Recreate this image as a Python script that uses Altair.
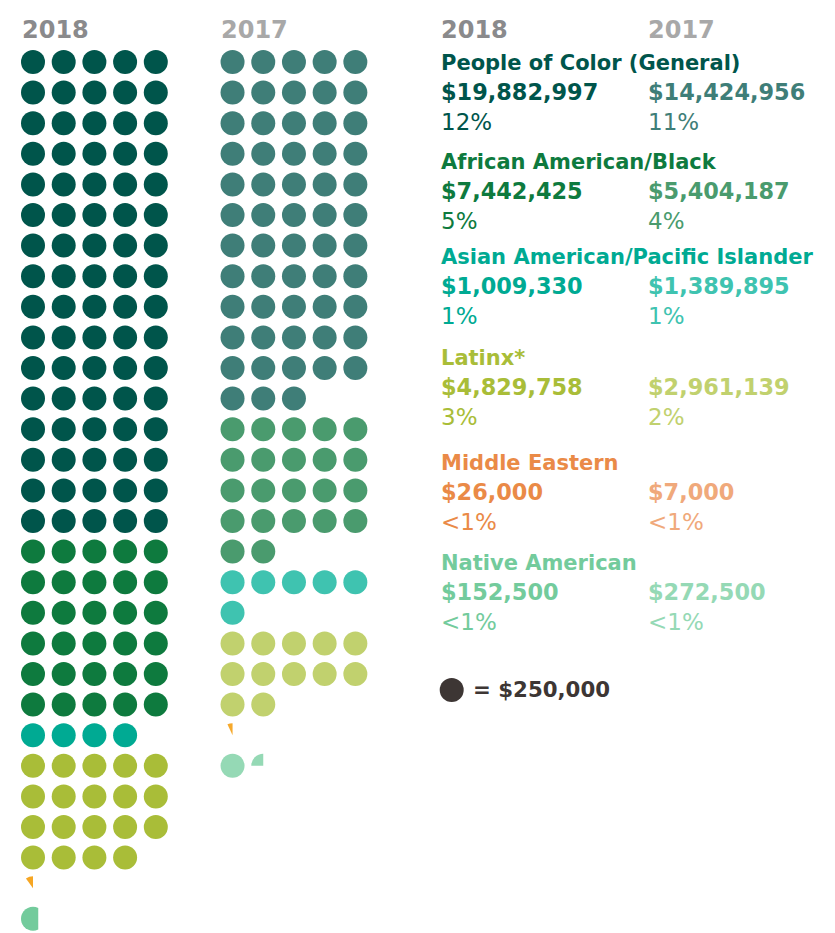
import math
import altair as alt
import pandas as pd

# ---------------- data ----------------
UNIT = 250000
years = ["2018", "2017"]
categories = ["People of Color (General)", "African American/Black",
              "Asian American/Pacific Islander", "Latinx*",
              "Middle Eastern", "Native American"]
amount_2018 = [19882997, 7442425, 1009330, 4829758, 26000, 152500]
amount_2017 = [14424956, 5404187, 1389895, 2961139, 7000, 272500]
share_2018 = ["12%", "5%", "1%", "3%", "<1%", "<1%"]
share_2017 = ["11%", "4%", "1%", "2%", "<1%", "<1%"]
# dots as drawn in the graphic: whole dots, then the fraction of a partial dot
whole_dots_2018 = [80, 30, 4, 19, 0, 0]
whole_dots_2017 = [58, 22, 6, 12, 0, 1]
partial_dot_2018 = [0, 0, 0, 0, 0.10, 0.77]
partial_dot_2017 = [0, 0, 0, 0, 0.07, 0.25]

# ---------------- style ----------------
dot_colors_2018 = ["#00554b", "#0e7a3e", "#00aa93", "#a9bd38", "#f6a623", "#73cb9c"]
dot_colors_2017 = ["#3f7e78", "#4a9b6e", "#3fc3b0", "#c1d16e", "#f6a92c", "#95d9b5"]
text_colors_2018 = ["#00554b", "#0e7a3e", "#00aa93", "#a9bd38", "#ea8a47", "#73cb9c"]
text_colors_2017 = ["#3f7e78", "#4a9b6e", "#3fc3b0", "#c1d16e", "#f0a97b", "#95d9b5"]
header_colors = ["#8a8a8c", "#a8a8a8"]
KEY_COLOR = "#3d3634"
FONT = "DejaVu Sans"

W, H = 819, 925
OFF = 8                      # page margin
PER_ROW = 5
COL_GAP = 6.5                # grid units between the two dot columns
SX, SY = 30.7, 30.6          # grid spacing in px
X0, Y0 = 33 - OFF, 62 - OFF  # first dot centre (plot coords)
DOT = 24

x_grid = alt.Scale(domain=[-X0 / SX, (W - X0) / SX])
y_grid = alt.Scale(domain=[-Y0 / SY, (H - Y0) / SY], reverse=True)
x_pix = alt.Scale(domain=[0, W])
y_pix = alt.Scale(domain=[0, H], reverse=True)


def seg_offset(f):
    """x offset of a vertical chord leaving fraction f of a unit circle on its left."""
    lo, hi = -1.0, 1.0
    for _ in range(60):
        c = (lo + hi) / 2
        left = (math.pi - (math.acos(c) - c * math.sqrt(1 - c * c))) / math.pi
        if left < f:
            lo = c
        else:
            hi = c
    return (lo + hi) / 2


recs = []
for yi, (whole, part, cols) in enumerate([
        (whole_dots_2018, partial_dot_2018, dot_colors_2018),
        (whole_dots_2017, partial_dot_2017, dot_colors_2017)]):
    row = 0
    for ci, cat in enumerate(categories):
        n = whole[ci]
        for k in range(n):
            recs.append(dict(year=years[yi], category=cat, kind="full",
                             gx=yi * COL_GAP + k % PER_ROW, gy=row + k // PER_ROW,
                             color=cols[ci], frac=1.0))
        slot = n
        if part[ci] > 0:
            f = part[ci]
            recs.append(dict(year=years[yi], category=cat,
                             kind="wedge" if f <= 0.5 else "segment",
                             gx=yi * COL_GAP + slot % PER_ROW, gy=row + slot // PER_ROW,
                             color=cols[ci], frac=f))
            slot += 1
        row += math.ceil(slot / PER_ROW)

dots = pd.DataFrame(recs)
dots["t0"] = 2 * math.pi * (1 - dots["frac"])
dots["t1"] = 2 * math.pi

enc_grid = dict(
    x=alt.X("gx:Q", scale=x_grid, axis=None),
    y=alt.Y("gy:Q", scale=y_grid, axis=None),
    color=alt.Color("color:N", scale=None),
)

full_layer = alt.Chart(dots[dots.kind == "full"]).mark_circle(
    size=DOT * DOT, opacity=1).encode(**enc_grid)

wedge_layer = alt.Chart(dots[dots.kind == "wedge"]).mark_arc(
    radius=DOT / 2, opacity=1).encode(
    theta=alt.Theta("t0:Q", scale=None),
    theta2="t1:Q",
    **enc_grid)

seg_layers = []
for _, r in dots[dots.kind == "segment"].iterrows():
    c = seg_offset(r.frac)
    s = math.sqrt(1 - c * c)
    path = f"M{c:.4f},{-s:.4f}A1,1,0,1,0,{c:.4f},{s:.4f}Z"
    seg_layers.append(
        alt.Chart(dots[(dots.kind == "segment") & (dots.year == r.year)]).mark_point(
            shape=path, filled=True, size=DOT * DOT, opacity=1, strokeWidth=0
        ).encode(**enc_grid))

# ---------------- text ----------------
LX = [441 - OFF, 648 - OFF]
name_base = [69.5, 169.3, 264.3, 365, 470, 570]

headers = pd.DataFrame(dict(
    text=years + years,
    px=[22 - OFF, 221 - OFF] + LX,
    py=[37.5 - OFF] * 4,
    color=header_colors + header_colors))

names = pd.DataFrame(dict(
    text=categories,
    px=[LX[0]] * len(categories),
    py=[b - OFF for b in name_base],
    color=text_colors_2018))

amt_rows, pct_rows = [], []
for ci in range(len(categories)):
    for yi, (amts, shares, cols) in enumerate([
            (amount_2018, share_2018, text_colors_2018),
            (amount_2017, share_2017, text_colors_2017)]):
        amt_rows.append(dict(text=f"${amts[ci]:,}", px=LX[yi],
                             py=name_base[ci] + 30 - OFF, color=cols[ci]))
        pct_rows.append(dict(text=shares[ci], px=LX[yi],
                             py=name_base[ci] + 60 - OFF, color=cols[ci]))
amts_df = pd.DataFrame(amt_rows)
pcts_df = pd.DataFrame(pct_rows)

key_dot = pd.DataFrame(dict(px=[451.7 - OFF], py=[690 - OFF]))
key_txt = pd.DataFrame(dict(text=[f"= ${UNIT:,}"], px=[473 - OFF], py=[697.3 - OFF]))

enc_pix = dict(
    x=alt.X("px:Q", scale=x_pix, axis=None),
    y=alt.Y("py:Q", scale=y_pix, axis=None),
)


def text_layer(df, size, weight, color=None):
    enc = dict(enc_pix, text="text:N")
    if color is None:
        enc["color"] = alt.Color("color:N", scale=None)
    mk = dict(align="left", baseline="alphabetic", font=FONT,
              fontSize=size, fontWeight=weight)
    if color is not None:
        mk["color"] = color
    return alt.Chart(df).mark_text(**mk).encode(**enc)


layers = [full_layer, wedge_layer] + seg_layers + [
    text_layer(headers, 24, "bold"),
    text_layer(names, 21, "bold"),
    text_layer(amts_df, 22.4, "bold"),
    text_layer(pcts_df, 23, "normal"),
    alt.Chart(key_dot).mark_circle(size=DOT * DOT, opacity=1, color=KEY_COLOR).encode(**enc_pix),
    text_layer(key_txt, 21.3, "bold", color=KEY_COLOR),
]

chart = alt.layer(*layers).resolve_scale(
    x="independent", y="independent"
).properties(
    width=W, height=H,
    autosize=alt.AutoSizeParams(type="none"),
    padding=0,
).configure_view(strokeWidth=0)

chart.save("out.html", embed_options={"renderer": "svg", "actions": False})
